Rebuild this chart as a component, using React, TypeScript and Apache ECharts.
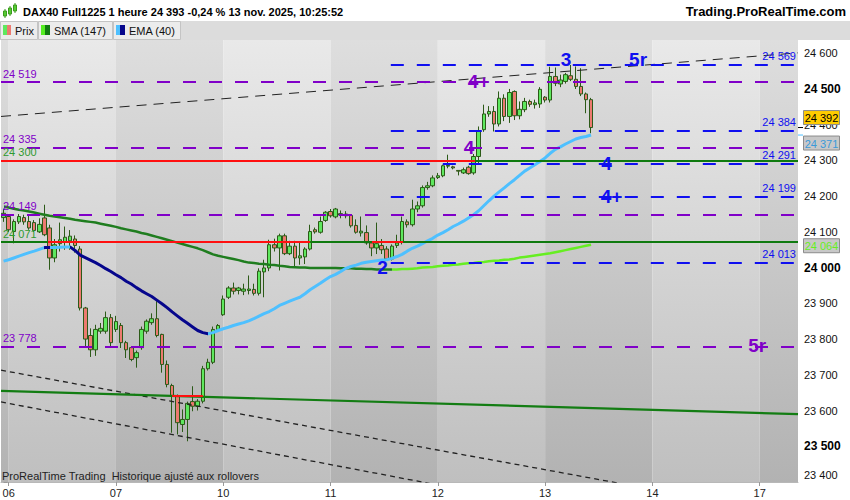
import { useEffect, useRef } from "react";
import * as echarts from "echarts";

// x axis: one slot per hourly bar, days as in the reference
const days = ["05", "06", "07", "10", "11", "12", "13", "14", "17"];
const slotsPerDay = [1, 21, 21, 21, 21, 21, 21, 21, 8];
const firstHour = [21, 1, 1, 1, 1, 1, 1, 1, 1];

// price scale
const yMin = 23400;
const yMax = 24637;
const yStep = 100;

// hourly candles: [open, close, low, high]
const candles = [
  [24140, 24152, 24128, 24165],
  [24143, 24106, 24100, 24150],
  [24101, 24129, 24068, 24135],
  [24128, 24143, 24122, 24150],
  [24140, 24128, 24120, 24148],
  [24129, 24111, 24106, 24150],
  [24126, 24104, 24100, 24133],
  [24100, 24121, 24097, 24138],
  [24139, 24092, 24088, 24176],
  [24111, 24027, 23994, 24120],
  [24027, 24064, 24015, 24080],
  [24067, 24078, 24045, 24126],
  [24072, 24085, 24050, 24115],
  [24075, 24088, 24050, 24105],
  [24080, 24062, 24042, 24090],
  [24052, 23887, 23880, 24060],
  [23887, 23800, 23775, 23890],
  [23810, 23770, 23750, 23830],
  [23770, 23827, 23753, 23840],
  [23822, 23830, 23815, 23845],
  [23822, 23860, 23815, 23877],
  [23860, 23790, 23780, 23870],
  [23827, 23849, 23820, 23865],
  [23838, 23790, 23775, 23845],
  [23790, 23770, 23747, 23795],
  [23776, 23743, 23738, 23780],
  [23748, 23762, 23720, 23768],
  [23776, 23827, 23770, 23835],
  [23822, 23850, 23815, 23855],
  [23846, 23857, 23840, 23872],
  [23857, 23810, 23805, 23906],
  [23813, 23729, 23706, 23815],
  [23729, 23673, 23665, 23740],
  [23670, 23640, 23538, 23675],
  [23640, 23566, 23533, 23645],
  [23561, 23575, 23540, 23603],
  [23575, 23620, 23514, 23625],
  [23625, 23612, 23598, 23668],
  [23612, 23626, 23600, 23632],
  [23626, 23717, 23620, 23725],
  [23717, 23735, 23712, 23745],
  [23735, 23827, 23730, 23835],
  [23827, 23838, 23822, 23842],
  [23868, 23912, 23865, 23922],
  [23917, 23943, 23912, 23948],
  [23943, 23934, 23925, 23958],
  [23936, 23943, 23925, 23946],
  [23934, 23940, 23923, 23955],
  [23936, 23940, 23925, 23978],
  [23939, 23928, 23922, 23955],
  [23928, 23990, 23922, 23998],
  [23988, 23999, 23917, 24022],
  [23999, 24064, 23990, 24078],
  [24064, 24055, 24045, 24081],
  [24055, 24089, 23992, 24095],
  [24089, 24039, 24035, 24095],
  [24039, 24060, 24035, 24075],
  [24060, 24027, 24004, 24075],
  [24027, 24033, 24008, 24070],
  [24030, 24052, 24010, 24057],
  [24052, 24101, 24048, 24120],
  [24106, 24100, 24095, 24112],
  [24099, 24129, 24095, 24143],
  [24132, 24155, 24128, 24158],
  [24157, 24145, 24140, 24164],
  [24142, 24164, 24138, 24167],
  [24147, 24151, 24138, 24160],
  [24150, 24145, 24138, 24158],
  [24146, 24117, 24112, 24150],
  [24118, 24099, 24095, 24135],
  [24097, 24102, 24087, 24143],
  [24098, 24069, 24064, 24118],
  [24069, 24055, 24032, 24074],
  [24055, 24067, 24038, 24126],
  [24062, 24050, 24038, 24080],
  [24052, 24024, 24020, 24060],
  [24024, 24060, 24020, 24065],
  [24062, 24069, 24055, 24092],
  [24071, 24129, 24065, 24143],
  [24128, 24120, 24112, 24135],
  [24120, 24164, 24115, 24190],
  [24164, 24173, 24155, 24185],
  [24173, 24224, 24168, 24230],
  [24224, 24229, 24218, 24240],
  [24229, 24251, 24225, 24258],
  [24252, 24257, 24248, 24265],
  [24257, 24285, 24253, 24288],
  [24284, 24286, 24278, 24316],
  [24282, 24279, 24275, 24285],
  [24272, 24270, 24258, 24272],
  [24265, 24274, 24262, 24280],
  [24281, 24263, 24260, 24285],
  [24265, 24311, 24260, 24318],
  [24311, 24383, 24290, 24395],
  [24386, 24430, 24380, 24456],
  [24430, 24437, 24422, 24452],
  [24437, 24402, 24381, 24452],
  [24402, 24474, 24395, 24493],
  [24474, 24423, 24410, 24485],
  [24423, 24490, 24405, 24500],
  [24493, 24425, 24413, 24496],
  [24425, 24443, 24415, 24465],
  [24442, 24465, 24435, 24475],
  [24465, 24457, 24450, 24470],
  [24456, 24461, 24445, 24470],
  [24458, 24499, 24447, 24505],
  [24477, 24469, 24462, 24480],
  [24469, 24535, 24462, 24562],
  [24535, 24516, 24508, 24560],
  [24514, 24525, 24505, 24540],
  [24521, 24540, 24515, 24545],
  [24537, 24527, 24522, 24567],
  [24527, 24507, 24500, 24563],
  [24507, 24486, 24480, 24558],
  [24486, 24470, 24432, 24490],
  [24470, 24392, 24376, 24475],
];

const sma147 = [
  24171, 24168, 24165, 24162, 24160, 24157, 24154, 24151, 24148, 24145,
  24143, 24141, 24139, 24137, 24134, 24132, 24130, 24128, 24126, 24123,
  24120, 24117, 24114, 24110, 24107, 24104, 24101, 24097, 24094, 24090,
  24086, 24082, 24078, 24074, 24070, 24066, 24062, 24058, 24054, 24049,
  24043, 24037, 24033, 24030, 24027, 24024, 24021, 24017, 24014, 24013,
  24011, 24010, 24008, 24007, 24005, 24004, 24002, 24001, 24000, 24000,
  23999, 23999, 23999, 23999, 23999, 23999, 23998, 23998, 23998, 23997,
  23997, 23996, 23996, 23995, 23995, 23995, 23995, 23995, 23996, 23996,
  23997, 23998, 24000, 24001, 24002, 24004, 24005, 24006, 24008, 24009,
  24011, 24012, 24013, 24015, 24016, 24018, 24019, 24020, 24022, 24023,
  24025, 24028, 24030, 24032, 24034, 24036, 24038, 24040, 24043, 24046,
  24049, 24052, 24055, 24058, 24061, 24064,
];

const ema40 = [
  24018, 24022, 24027, 24032, 24037, 24042, 24046, 24051, 24056, 24056,
  24056, 24057, 24058, 24058, 24048, 24035, 24028, 24021, 24014, 24006,
  23997, 23989, 23980, 23972, 23962, 23954, 23944, 23935, 23927, 23919,
  23909, 23899, 23888, 23876, 23865, 23854, 23844, 23834, 23824, 23818,
  23815, 23818, 23824, 23829, 23833, 23838, 23842, 23846, 23851, 23857,
  23864, 23871, 23877, 23885, 23894, 23900, 23906, 23912, 23917, 23927,
  23938, 23947, 23956, 23966, 23975, 23981, 23989, 23998, 24003, 24007,
  24012, 24015, 24017, 24019, 24021, 24022, 24026, 24031, 24037, 24046,
  24054, 24060, 24067, 24075, 24082, 24091, 24098, 24106, 24115, 24122,
  24130, 24139, 24148, 24159, 24173, 24187, 24200, 24212, 24223, 24235,
  24246, 24258, 24270, 24279, 24288, 24297, 24307, 24320, 24331, 24338,
  24346, 24353, 24360, 24364, 24367, 24371,
];

// slot ranges where the averages are drawn in their "falling" colour
const smaFalling = [[0, 76]];
const emaFalling = [[8, 9], [13, 40]];

// drawn levels
const purpleLevels = [24519, 24335, 24149, 23778];
const blueLevels = [24569, 24384, 24291, 24199, 24013];
const blueFrom = 75.8;
const redSegments = [
  [24300, -0.5, 92.3],
  [24071, 8.7, 60],
  [24071, 72.1, 78.2],
  [23640, 33, 39],
];
const greenSegments = [
  [24071, -0.5, 8.7],
  [24071, 60, 155.5],
  [24300, 92.3, 155.5],
];
const greenLabelLevels = [24300, 24071];

// trend lines: [slot, price] end points
const trendUpper = [[-0.5, 24423], [155.5, 24601]];
const trendDashA = [[-0.5, 23713], [155.5, 23305]];
const trendDashB = [[-0.5, 23624], [155.5, 23200]];
const trendGreen = [[-0.5, 23655], [155.5, 23590]];

// wave count labels: [text, slot, price, colour key]
const waveLabels = [
  ["3", 110.1, 24582, "b"],
  ["5r", 124.2, 24582, "b"],
  ["4", 118, 24291, "b"],
  ["4+", 119, 24199, "b"],
  ["4+", 93, 24522, "p"],
  ["4", 91.1, 24336, "p"],
  ["2", 74.2, 24000, "b"],
  ["5r", 147.5, 23782, "p"],
];

const BLUE = "#0f0ff0";
const PURPLE = "#8000c8";
const RED = "#ff1010";
const GREEN = "#0f7a0f";
const FONT = 'Arial, "Liberation Sans", sans-serif';

const fmt = (v: number) => {
  const r = Math.round(v);
  return `${Math.floor(r / 1000)} ${String(r % 1000).padStart(3, "0")}`;
};

const categories: string[] = [];
days.forEach((d, i) => {
  for (let h = 0; h < slotsPerDay[i]; h++) categories.push(`${d} ${firstHour[i] + h}h`);
});
const isDayStart = (v: string) => v.endsWith(" 1h");

const dayStarts: number[] = [];
{
  let acc = 0;
  slotsPerDay.forEach((n) => {
    dayStarts.push(acc);
    acc += n;
  });
}

const grad = (top: string, bottom: string) => ({
  type: "linear",
  x: 0,
  y: 0,
  x2: 0,
  y2: 1,
  colorStops: [
    { offset: 0, color: top },
    { offset: 1, color: bottom },
  ],
});

export default function App() {
  const ref = useRef<HTMLDivElement>(null);

  useEffect(() => {
    document.body.style.margin = "0";
    if (!ref.current) return;
    const chart = echarts.init(ref.current, null, { renderer: "svg" });

    const bands = days.map((_, i) => {
      const a = i === 0 ? -0.5 : dayStarts[i];
      const b = i === days.length - 1 ? 155.5 : dayStarts[i + 1];
      const dark = i % 2 === 0;
      return [
        {
          xAxis: a,
          itemStyle: { color: dark ? grad("#dedede", "#b2b2b2") : grad("#e9e9e9", "#bfbfbf") },
        },
        { xAxis: b },
      ];
    });

    const lbl = (text: string, color: string, position: string) => ({
      show: true,
      position,
      formatter: text,
      color,
      fontSize: 11,
      fontFamily: FONT,
      distance: [2, 3],
    });

    const levelLines: any[] = [
      ...purpleLevels.map((v) => [
        {
          coord: [-0.5, v],
          lineStyle: { color: PURPLE, width: 2, type: [13, 13] },
          label: lbl(fmt(v), PURPLE, "insideStartTop"),
        },
        { coord: [155.5, v] },
      ]),
      ...blueLevels.map((v) => [
        {
          coord: [blueFrom, v],
          lineStyle: { color: BLUE, width: 2, type: [13, 13] },
          label: lbl(fmt(v), BLUE, "insideEndTop"),
        },
        { coord: [155.5, v] },
      ]),
      ...greenSegments.map(([v, a, b]) => [
        {
          coord: [a, v],
          lineStyle: { color: GREEN, width: 2, type: "solid" },
          label:
            a === -0.5 && greenLabelLevels.includes(v)
              ? lbl(fmt(v), "#2f9a2f", "insideStartTop")
              : { show: false },
        },
        { coord: [b, v] },
      ]),
      ...redSegments.map(([v, a, b]) => [
        {
          coord: [a, v],
          lineStyle: { color: RED, width: 2, type: "solid" },
          label:
            a === -0.5 && greenLabelLevels.includes(v)
              ? lbl(fmt(v), "#2f9a2f", "insideStartTop")
              : { show: false },
        },
        { coord: [b, v] },
      ]),
    ];

    const trend = (data: number[][], color: string, width: number, type: any) => ({
      type: "line",
      xAxisIndex: 1,
      data,
      symbol: "none",
      silent: true,
      z: 4,
      lineStyle: { color, width, type },
    });

    const option: any = {
      animation: false,
      backgroundColor: "#ffffff",
      textStyle: { fontFamily: FONT },
      grid: { left: 1, right: 52, top: 40, bottom: 18, outerBoundsMode: "none" },
      xAxis: [
        {
          type: "category",
          data: categories,
          boundaryGap: true,
          axisLine: { lineStyle: { color: "#b8b8b8" } },
          axisTick: {
            show: true,
            alignWithLabel: true,
            length: 4,
            interval: (_: number, v: string) => isDayStart(v),
            lineStyle: { color: "#999" },
          },
          axisLabel: {
            interval: (_: number, v: string) => isDayStart(v),
            formatter: (v: string) => v.slice(0, 2),
            color: "#222",
            fontSize: 11,
            margin: 5,
          },
          splitLine: { show: false },
        },
        { type: "value", min: -0.5, max: 155.5, show: false },
      ],
      yAxis: {
        type: "value",
        position: "right",
        min: yMin,
        max: yMax,
        interval: yStep,
        scale: true,
        splitLine: { show: false },
        axisLine: { show: true, lineStyle: { color: "#b8b8b8" } },
        axisTick: { show: true, length: 4, lineStyle: { color: "#999" } },
        axisLabel: {
          showMaxLabel: false,
          margin: 6,
          formatter: (v: number) => {
            const s = fmt(v);
            if (v === yMin) return `{low|${s}}`;
            return v % 500 === 0 ? `{big|${s}}` : `{n|${s}}`;
          },
          rich: {
            n: { fontSize: 11, color: "#111", fontFamily: FONT },
            big: { fontSize: 12, fontWeight: "bold", color: "#000", fontFamily: FONT },
            low: { fontSize: 11, color: "#111", fontFamily: FONT, padding: [0, 0, 14, 0] },
          },
        },
      },
      visualMap: [
        {
          type: "piecewise",
          show: false,
          seriesIndex: 7,
          dimension: 0,
          pieces: [
            ...smaFalling.map(([a, b]) => ({ gte: a, lt: b, color: "#1f7d1f" })),
            { gte: smaFalling[0][1], color: "#66ee22" },
          ],
        },
        {
          type: "piecewise",
          show: false,
          seriesIndex: 8,
          dimension: 0,
          pieces: [
            { lt: emaFalling[0][0], color: "#4ec0ff" },
            { gte: emaFalling[0][0], lte: emaFalling[0][1], color: "#06068c" },
            { gt: emaFalling[0][1], lt: emaFalling[1][0], color: "#4ec0ff" },
            { gte: emaFalling[1][0], lte: emaFalling[1][1], color: "#06068c" },
            { gt: emaFalling[1][1], color: "#4ec0ff" },
          ],
        },
      ],
      series: [
        {
          type: "line",
          xAxisIndex: 1,
          data: [],
          silent: true,
          z: 0,
          markArea: { silent: true, data: bands },
        },
        {
          type: "line",
          xAxisIndex: 1,
          data: [],
          silent: true,
          z: 4,
          markLine: {
            silent: true,
            symbol: ["none", "none"],
            label: { show: false },
            emphasis: { disabled: true },
            data: levelLines,
          },
        },
        trend(trendUpper, "#222", 1, [10, 7]),
        trend(trendDashA, "#222", 1.3, [5, 4]),
        trend(trendDashB, "#222", 1.3, [5, 4]),
        trend(trendGreen, "#137d13", 2.2, "solid"),
        {
          type: "candlestick",
          xAxisIndex: 0,
          data: candles,
          barWidth: 4,
          z: 2,
          itemStyle: {
            color: "#5ee85e",
            color0: "#ec7a70",
            borderColor: "#2c5a18",
            borderColor0: "#2c5a18",
            borderWidth: 1,
          },
        },
        {
          type: "line",
          xAxisIndex: 0,
          data: sma147,
          symbol: "none",
          z: 3,
          lineStyle: { width: 2.5 },
        },
        {
          type: "line",
          xAxisIndex: 0,
          data: ema40,
          symbol: "none",
          z: 3,
          lineStyle: { width: 3 },
        },
        {
          type: "scatter",
          xAxisIndex: 1,
          symbolSize: 1,
          z: 6,
          silent: true,
          itemStyle: { color: "rgba(0,0,0,0)" },
          data: waveLabels.map(([t, x, y, c]) => ({
            name: t,
            value: [x, y],
            label: { color: c === "b" ? BLUE : PURPLE },
          })),
          label: {
            show: true,
            position: "inside",
            formatter: "{b}",
            fontSize: 19,
            fontWeight: "bold",
            fontFamily: FONT,
            textBorderWidth: 0,
            textBorderColor: "transparent",
            opacity: 1,
          },
        },
      ],
    };

    chart.setOption(option);

    const lastClose = candles[candles.length - 1][1];
    const lastEma = ema40[ema40.length - 1];
    const lastSma = sma147[sma147.length - 1];
    const yPrice = chart.convertToPixel({ yAxisIndex: 0 }, lastClose) as number;
    const yEma = chart.convertToPixel({ yAxisIndex: 0 }, lastEma) as number;
    const ySma = chart.convertToPixel({ yAxisIndex: 0 }, lastSma) as number;

    const text = (t: string, x: number, y: number, font: string, fill: string, align = "left") => ({
      type: "text",
      z: 100,
      style: {
        text: t,
        x,
        y,
        font,
        fill,
        align,
        textAlign: align,
        verticalAlign: "middle",
        textVerticalAlign: "middle",
      },
    });
    const rect = (x: number, y: number, w: number, h: number, fill: string, stroke?: string) => ({
      type: "rect",
      z: 100,
      shape: { x, y, width: w, height: h },
      style: { fill, stroke: stroke || null, lineWidth: 1 },
    });
    const valueBox = (y: number, t: string, fill: string, color: string) => [
      rect(803.5, y - 7, 36, 14, fill, "#8c8c8c"),
      text(t, 821.5, y + 0.5, `11px ${FONT}`, color, "center"),
    ];

    chart.setOption({
      graphic: [
        // header
        { type: "line", z: 100, shape: { x1: 5, y1: 9, x2: 5, y2: 18 }, style: { stroke: "#3c9a1e", lineWidth: 1 } },
        rect(3.5, 11, 3, 5, "#55cc33", "#3c9a1e"),
        { type: "line", z: 100, shape: { x1: 10, y1: 6, x2: 10, y2: 16 }, style: { stroke: "#3c9a1e", lineWidth: 1 } },
        rect(8.5, 8, 3, 6, "#55cc33", "#3c9a1e"),
        { type: "line", z: 100, shape: { x1: 15, y1: 3, x2: 15, y2: 13 }, style: { stroke: "#3c9a1e", lineWidth: 1 } },
        rect(13.5, 5, 3, 6, "#55cc33", "#3c9a1e"),
        text("DAX40 Full1225 1 heure 24 393 -0,24 % 13 nov. 2025, 10:25:52", 23, 12, `bold 11px ${FONT}`, "#000"),
        text("Trading.ProRealTime.com", 846, 11, `bold 13px ${FONT}`, "#000", "right"),
        // indicator tabs
        rect(0, 21, 850, 19, "#dcdcdc"),
        rect(0.5, 21.5, 37, 18, "#ececec", "#c4c4c4"),
        rect(38.5, 21.5, 74, 18, "#ececec", "#c4c4c4"),
        rect(113.5, 21.5, 67, 18, "#ececec", "#c4c4c4"),
        rect(3, 25, 4, 10, "#5ee85e"),
        rect(7, 25, 4, 10, "#ec7a70"),
        text("Prix", 15, 31, `11px ${FONT}`, "#111"),
        rect(41, 25, 4, 10, "#55ee22"),
        rect(45, 25, 5, 10, "#117a11"),
        text("SMA (147)", 54, 31, `11px ${FONT}`, "#111"),
        rect(116, 25, 4, 10, "#4ec0ff"),
        rect(120, 25, 5, 10, "#06068c"),
        text("EMA (40)", 129, 31, `11px ${FONT}`, "#111"),
        // footer note
        text("ProRealTime Trading  Historique ajusté aux rollovers", 2, 476, `11px ${FONT}`, "#222"),
        // last values on the price axis
        { type: "line", z: 100, shape: { x1: 798, y1: yPrice, x2: 803, y2: yPrice }, style: { stroke: "#000", lineWidth: 1 } },
        { type: "line", z: 100, shape: { x1: 798, y1: yEma, x2: 803, y2: yEma }, style: { stroke: "#4ec0ff", lineWidth: 1 } },
        ...valueBox(yPrice - 10, fmt(lastClose), "#ffcc00", "#000"),
        ...valueBox(yEma + 8, fmt(lastEma), "#c8c8c8", "#3a9ad9"),
        ...valueBox(ySma + 1, fmt(lastSma), "#c8c8c8", "#66ee22"),
      ],
    });

    return () => {
      chart.dispose();
    };
  }, []);

  return <div ref={ref} style={{ width: 850, height: 500 }} />;
}
